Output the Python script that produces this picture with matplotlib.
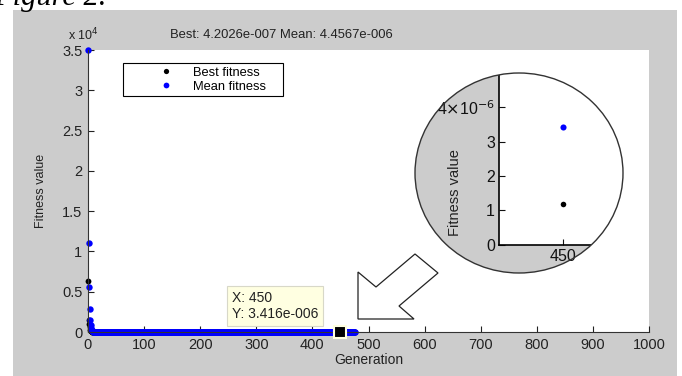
import numpy as np
import matplotlib
matplotlib.use("Agg")
import matplotlib.pyplot as plt
from matplotlib.patches import Ellipse, Polygon, Rectangle

plt.rcParams['font.family'] = ['Liberation Sans', 'DejaVu Sans']

W, H = 682, 376

# data
early_best = [6300, 1500, 1000, 600, 300, 150, 80, 40, 20, 10]
early_mean = [35000, 11000, 5600, 2900, 1500, 900, 500, 250, 120, 60]
last_gen = 476
tail_best = 1.2e-6      # best fitness around gen 450 (inset)
tail_mean = 3.416e-6    # mean fitness at gen 450 (datatip)
final_best = 4.2026e-7
final_mean = 4.4567e-6

gens = np.arange(0, last_gen + 1)
n_tail = len(gens) - len(early_best) - 1
best = np.array(early_best + [tail_best] * n_tail + [final_best])
mean = np.array(early_mean + [tail_mean] * n_tail + [final_mean])

xticks = list(range(0, 1001, 100))
yticks = [0, 5000, 10000, 15000, 20000, 25000, 30000, 35000]
ytick_labels = ['0', '0.5', '1', '1.5', '2', '2.5', '3', '3.5']
tip_gen = 450
tip_val = 3.416e-6


def fx(x):
    return x / W


def fy(y):
    return 1 - y / H


def matlab_e(v, prec):
    # 3.416e-06 -> 3.416e-006
    m, e = ('%.*e' % (prec, v)).split('e')
    sign = '-' if e[0] == '-' else '+'
    return '%se%s%03d' % (m, sign, abs(int(e)))


fig = plt.figure(figsize=(W / 100, H / 100), dpi=100)
fig.patch.set_facecolor('white')

# grey matlab figure area
fig.add_artist(Rectangle((fx(13), 0), fx(677) - fx(13), fy(10), transform=fig.transFigure,
                         facecolor='#cccccc', edgecolor='none', zorder=-10))
fig.text(fx(-6), fy(5), 'Figure 2.', family='Liberation Serif', style='italic',
         fontsize=22, va='baseline', ha='left')

ax = fig.add_axes([fx(88), fy(332), fx(649) - fx(88), fy(50) - fy(332)])
ax.set_facecolor('white')
ax.plot(gens, best, 'o', color='black', ms=4.2, mew=0, clip_on=False, label='Best fitness')
ax.plot(gens, mean, 'o', color='blue', ms=4.6, mew=0, clip_on=False, label='Mean fitness')
ax.set_xlim(0, 1000)
ax.set_ylim(0, 35000)
ax.set_xticks(xticks)
ax.set_yticks(yticks)
ax.set_yticklabels(ytick_labels)
for s in ['top', 'right']:
    ax.spines[s].set_visible(False)
for s in ['left', 'bottom']:
    ax.spines[s].set_color('#333333')
ax.tick_params(direction='in', length=4, labelsize=10.5, colors='#222222', pad=4)
ax.set_xlabel('Generation', fontsize=10, labelpad=1, color='#222222')
ax.set_ylabel('Fitness value', fontsize=9, labelpad=11, color='#222222')
fig.text(fx(68), fy(40), r'x 10$^{4}$', fontsize=9, va='baseline', color='#222222')
fig.text(fx(281), fy(38), 'Best: 4.2026e-007 Mean: 4.4567e-006', fontsize=9.4,
         ha='center', va='baseline', color='#222222')

# legend: entries from the lines, box drawn as in matlab (wider right margin)
leg = ax.legend(loc='upper left', bbox_to_anchor=((123 - 88) / (649 - 88), 1 - (63 - 50) / 282),
                bbox_transform=ax.transAxes, fontsize=9.3, frameon=False,
                borderpad=0.3, handlelength=6.0, handletextpad=-0.9, labelspacing=0.15,
                borderaxespad=0, markerscale=0.9)
leg.set_zorder(6)
ax.add_patch(Rectangle((fx(123), fy(96)), fx(283) - fx(123), fy(63) - fy(96),
                       transform=fig.transFigure, facecolor='white', edgecolor='black',
                       lw=0.8, zorder=4, clip_on=False))

# datatip
ax.plot([tip_gen], [0], 's', ms=8, mfc='black', mec='#ffffe1', mew=1.5, clip_on=False, zorder=5)
fig.text(fx(232), fy(318), 'X: %d\nY: %s' % (tip_gen, matlab_e(tip_val, 3)), fontsize=10,
         va='baseline', linespacing=1.2, color='#222222',
         bbox=dict(boxstyle='square,pad=0.35', facecolor='#ffffe1', edgecolor='#d8d8c8', lw=0.8))

# hollow arrow
arrow_px = [(358, 272), (376, 287), (415, 254), (438, 273), (399, 306), (414, 319), (358, 319)]
fig.add_artist(Polygon([(fx(x), fy(y)) for x, y in arrow_px], closed=True,
                       transform=fig.transFigure, facecolor='white', edgecolor='#222222',
                       lw=0.9, zorder=3))

# zoom circle
circ = Ellipse((fx(519), fy(173)), fx(208), 200 / H, transform=fig.transFigure,
               facecolor='#cccccc', edgecolor='none', zorder=1)
fig.add_artist(circ)
ax_in = fig.add_axes([fx(499), fy(245), fx(640) - fx(499), fy(72.5) - fy(245)], zorder=2)
ax_in.plot(gens, best, 'o', color='black', ms=4, mew=0)
ax_in.plot(gens, mean, 'o', color='blue', ms=4.4, mew=0)
ax_in.set_xlim(449.5, 450.6)
ax_in.set_ylim(0, 5e-6)
ax_in.set_xticks([tip_gen])
ax_in.set_yticks([0, 1e-6, 2e-6, 3e-6, 4e-6])
ax_in.set_yticklabels(['0', '1', '2', '3', r'4$\times$10$^{-6}$'])
ax_in.patch.set_clip_path(circ)
for s in ['top', 'right']:
    ax_in.spines[s].set_visible(False)
for s in ['left', 'bottom']:
    ax_in.spines[s].set_clip_path(circ)
    ax_in.spines[s].set_linewidth(1.2)
ax_in.tick_params(direction='in', length=4, labelsize=11.5, pad=3, colors='#111111')
ax_in.set_ylabel('Fitness value', fontsize=10.5, color='#222222')
ax_in.yaxis.set_label_coords((462 - 499) / 141, (245 - 193) / 172.5)
circ_edge = Ellipse((fx(519), fy(173)), fx(208), 200 / H, transform=fig.transFigure,
                    facecolor='none', edgecolor='#333333', lw=1, zorder=4)
fig.add_artist(circ_edge)

fig.savefig('out.png', dpi=100)
